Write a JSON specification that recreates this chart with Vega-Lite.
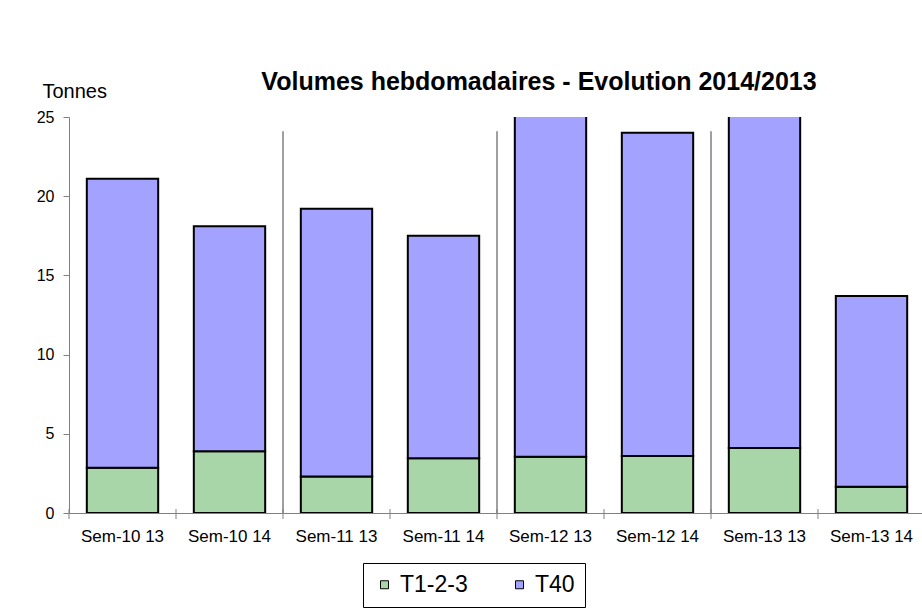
{
  "$schema": "https://vega.github.io/schema/vega-lite/v6.json",
  "width": 856,
  "height": 396,
  "autosize": "none",
  "padding": {"left": 69, "top": 117, "right": 0, "bottom": 95},
  "background": "white",
  "title": {
    "text": "Volumes hebdomadaires - Evolution 2014/2013",
    "fontSize": 25,
    "fontWeight": "bold",
    "color": "black",
    "anchor": "middle",
    "dx": 42,
    "offset": -34,
    "baseline": "alphabetic"
  },
  "datasets": {
    "volumes": [
      {"cat": "Sem-10 13", "serie": "T1-2-3", "tonnes": 2.85},
      {"cat": "Sem-10 13", "serie": "T40", "tonnes": 18.25},
      {"cat": "Sem-10 14", "serie": "T1-2-3", "tonnes": 3.9},
      {"cat": "Sem-10 14", "serie": "T40", "tonnes": 14.2},
      {"cat": "Sem-11 13", "serie": "T1-2-3", "tonnes": 2.3},
      {"cat": "Sem-11 13", "serie": "T40", "tonnes": 16.9},
      {"cat": "Sem-11 14", "serie": "T1-2-3", "tonnes": 3.45},
      {"cat": "Sem-11 14", "serie": "T40", "tonnes": 14.05},
      {"cat": "Sem-12 13", "serie": "T1-2-3", "tonnes": 3.55},
      {"cat": "Sem-12 13", "serie": "T40", "tonnes": 23.45},
      {"cat": "Sem-12 14", "serie": "T1-2-3", "tonnes": 3.6},
      {"cat": "Sem-12 14", "serie": "T40", "tonnes": 20.4},
      {"cat": "Sem-13 13", "serie": "T1-2-3", "tonnes": 4.1},
      {"cat": "Sem-13 13", "serie": "T40", "tonnes": 23.4},
      {"cat": "Sem-13 14", "serie": "T1-2-3", "tonnes": 1.66},
      {"cat": "Sem-13 14", "serie": "T40", "tonnes": 12.04}
    ],
    "separateurs": [
      {"cat": "Sem-11 13"},
      {"cat": "Sem-12 13"},
      {"cat": "Sem-13 13"}
    ]
  },
  "layer": [
    {
      "data": {"name": "separateurs"},
      "mark": {"type": "rule", "color": "#404040", "strokeWidth": 1},
      "encoding": {
        "x": {
          "field": "cat",
          "type": "nominal",
          "bandPosition": 0,
          "scale": {
            "type": "band",
            "domain": ["Sem-10 13", "Sem-10 14", "Sem-11 13", "Sem-11 14", "Sem-12 13", "Sem-12 14", "Sem-13 13", "Sem-13 14"],
            "paddingInner": 0,
            "paddingOuter": 0
          },
          "axis": {
            "title": null,
            "bandPosition": 0.5,
            "labelAngle": 0,
            "labelAlign": "center",
            "labelBaseline": "top",
            "ticks": false,
            "labelFontSize": 17,
            "labelPadding": 15,
            "domainColor": "#808080",
            "labelColor": "black"
          }
        },
        "y": {"datum": 0, "type": "quantitative"},
        "y2": {"datum": 24.1}
      }
    },
    {
      "data": {"name": "volumes"},
      "transform": [{"filter": "datum.serie === 'T40'"}],
      "mark": {"type": "rule", "color": "#808080", "strokeWidth": 1},
      "encoding": {
        "x": {
          "field": "cat",
          "type": "nominal",
          "bandPosition": 0,
          "scale": {
            "type": "band",
            "domain": ["Sem-10 13", "Sem-10 14", "Sem-11 13", "Sem-11 14", "Sem-12 13", "Sem-12 14", "Sem-13 13", "Sem-13 14"],
            "paddingInner": 0,
            "paddingOuter": 0
          },
          "axis": {
            "title": null,
            "bandPosition": 0.5,
            "labelAngle": 0,
            "labelAlign": "center",
            "labelBaseline": "top",
            "ticks": false,
            "labelFontSize": 17,
            "labelPadding": 15,
            "domainColor": "#808080",
            "labelColor": "black"
          }
        },
        "y": {"datum": 0.25, "type": "quantitative"},
        "y2": {"datum": -0.38}
      }
    },
    {
      "data": {"name": "volumes"},
      "mark": {"type": "bar", "clip": true, "stroke": "black", "strokeWidth": 2, "width": {"band": 0.667}},
      "encoding": {
        "x": {
          "field": "cat",
          "type": "nominal",
          "scale": {
            "type": "band",
            "domain": ["Sem-10 13", "Sem-10 14", "Sem-11 13", "Sem-11 14", "Sem-12 13", "Sem-12 14", "Sem-13 13", "Sem-13 14"],
            "paddingInner": 0,
            "paddingOuter": 0
          },
          "axis": {
            "title": null,
            "bandPosition": 0.5,
            "labelAngle": 0,
            "labelAlign": "center",
            "labelBaseline": "top",
            "ticks": false,
            "labelFontSize": 17,
            "labelPadding": 15,
            "domainColor": "#808080",
            "labelColor": "black"
          }
        },
        "y": {
          "field": "tonnes",
          "type": "quantitative",
          "stack": "zero",
          "scale": {"domain": [0, 25], "nice": false},
          "axis": {
            "title": "Tonnes",
            "titleAngle": 0,
            "titleAlign": "left",
            "titleBaseline": "alphabetic",
            "titleX": -27,
            "titleY": -20,
            "titleFontSize": 20,
            "titleFontWeight": "normal",
            "titleColor": "black",
            "values": [0, 5, 10, 15, 20, 25],
            "labelFontSize": 16,
            "labelColor": "black",
            "tickSize": 6,
            "labelPadding": 9,
            "domainColor": "#808080",
            "tickColor": "#808080",
            "grid": false
          }
        },
        "color": {
          "field": "serie",
          "type": "nominal",
          "scale": {"domain": ["T1-2-3", "T40"], "range": ["#a8d6a8", "#a3a3ff"]},
          "legend": {
            "title": null,
            "orient": "none",
            "legendX": 294,
            "legendY": 446,
            "direction": "horizontal",
            "strokeColor": "black",
            "padding": 10,
            "labelFontSize": 23,
            "labelColor": "black",
            "symbolType": "square",
            "symbolSize": 64,
            "symbolStrokeColor": "black",
            "symbolStrokeWidth": 1,
            "labelOffset": 4,
            "columnPadding": 40
          }
        },
        "order": {"field": "serie", "sort": "ascending"}
      }
    }
  ],
  "config": {
    "font": "Liberation Sans",
    "view": {"stroke": null}
  }
}
